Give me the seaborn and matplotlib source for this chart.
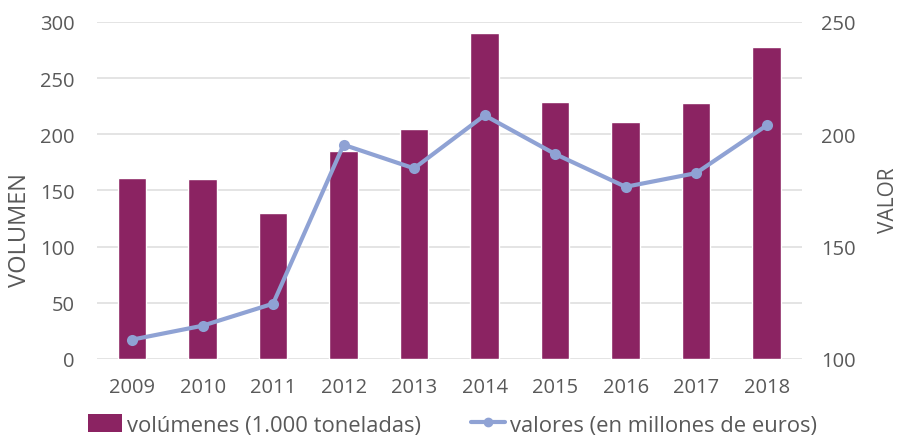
import matplotlib
matplotlib.use("Agg")
import matplotlib.pyplot as plt
from matplotlib.patches import Patch
from matplotlib.lines import Line2D
import seaborn as sns
import pandas as pd
import numpy as np

years = ["2009", "2010", "2011", "2012", "2013", "2014", "2015", "2016", "2017", "2018"]
volumenes = [161, 160, 130, 185, 205, 290.5, 228.6, 210.5, 227.4, 278]
valores = [108.6, 114.8, 124.6, 195.3, 184.8, 208.4, 191.2, 176.6, 182.7, 203.9]

bar_color = "#8B2362"
line_color = "#8FA2D4"
text_color = "#595959"
grid_color = "#DFDFDF"

sns.set_theme(style="white")
plt.rcParams["font.family"] = ["Open Sans", "DejaVu Sans"]

df = pd.DataFrame({"year": years, "vol": volumenes, "val": valores, "pos": np.arange(len(years))})

fig = plt.figure(figsize=(9.05, 4.39), dpi=100)
ax = fig.add_axes([0.107, 0.18, 0.779, 0.768])

sns.barplot(data=df, x="year", y="vol", color=bar_color, width=0.4, saturation=1, ax=ax, zorder=2)
ax.set_ylim(0, 300)
ax.set_yticks(range(0, 301, 50))
ax.set_xlim(-0.5, len(years) - 0.5)
ax.yaxis.grid(True, color=grid_color, linewidth=1.2, zorder=0)
ax.set_axisbelow(True)
for s in ax.spines.values():
    s.set_visible(False)
ax.set_xlabel("")
ax.set_ylabel("VOLUMEN", fontsize=17, color=text_color)
ax.yaxis.set_label_coords(-0.092, 0.386)
ax.tick_params(axis="both", length=0, labelsize=14.5, labelcolor=text_color)
ax.tick_params(axis="x", pad=13)
ax.tick_params(axis="y", pad=16)

ax2 = ax.twinx()
sns.lineplot(data=df, x="pos", y="val", color=line_color, linewidth=3, marker="o",
             markersize=8, markeredgewidth=0, ax=ax2, zorder=3)
ax2.set_ylim(100, 250)
ax2.set_yticks(range(100, 251, 50))
for s in ax2.spines.values():
    s.set_visible(False)
ax2.set_xlabel("")
ax2.set_ylabel("VALOR", fontsize=15, color=text_color)
ax2.yaxis.set_label_coords(1.108, 0.475)
ax2.tick_params(axis="y", length=0, labelsize=14.5, labelcolor=text_color, pad=14)
ax2.set_xlim(-0.5, len(years) - 0.5)

handles = [
    Patch(facecolor=bar_color, edgecolor="none", label="volúmenes (1.000 toneladas)"),
    Line2D([0], [0], color=line_color, linewidth=3, marker="o", markersize=6,
           label="valores (en millones de euros)"),
]
fig.legend(handles=handles, loc="center", bbox_to_anchor=(0.5, 0.03), ncol=2,
           frameon=False, fontsize=15.8, labelcolor=text_color, handlelength=1.55,
           handleheight=0.9, handletextpad=0.25, columnspacing=2.25, borderpad=0.1)

fig.savefig("out.png", dpi=100)
